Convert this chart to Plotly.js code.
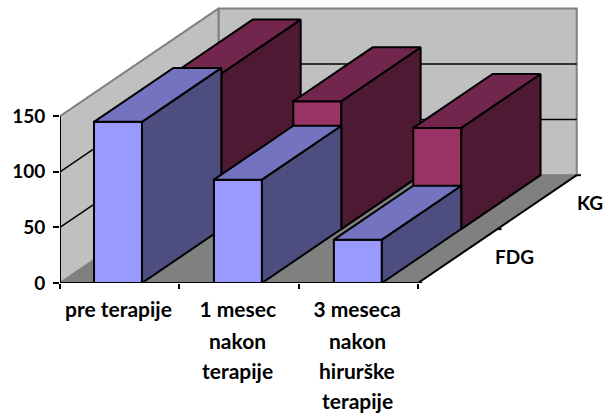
<!DOCTYPE html>
<html>
<head>
<meta charset="utf-8">
<script src="https://cdn.plot.ly/plotly-3.0.1.min.js"></script>
<style>html,body{margin:0;padding:0;background:#fff}#chart{width:614px;height:419px}</style>
</head>
<body>
<div id="chart"></div>
<script>
// Category labels, one array entry per printed line
const categoryLines = [
  ["pre terapije"],
  ["1 mesec", "nakon", "terapije"],
  ["3 meseca", "nakon", "hirurške", "terapije"]
];
const seriesNames = ["FDG", "KG"];
const fdgValues = [145, 93, 39];
const kgValues = [140, 115, 91];
const valueTicks = [0, 50, 100, 150];
const gridValues = [50, 100];

// Oblique projection: how far one series row shifts a point on each axis
const ROW_DX = 0.665;
const ROW_DY = 48.5;
const ROWS = 2;
const BAR_LEFT = 0.285;
const BAR_PITCH = 1.005;
const BAR_WIDTH = 0.402;
const N = categoryLines.length;
const DX = ROW_DX * ROWS, DY = ROW_DY * ROWS;
const TOP = valueTicks[valueTicks.length - 1];
const SERIES_LABEL_GAP = [0.48, 0.445];

const FONT = {family: "Lato, Carlito, sans-serif", size: 19, color: "#000", weight: 700};
const CATEGORY_FONT = {family: FONT.family, size: 21, color: "#000", weight: 700};
const traces = [];

function poly(xs, ys, fill, lineColor, lineWidth) {
  traces.push({
    type: "scatter", mode: "lines", x: xs.concat(xs[0]), y: ys.concat(ys[0]),
    fill: "toself", fillcolor: fill,
    line: {color: lineColor, width: lineWidth},
    hoverinfo: "skip", showlegend: false, cliponaxis: false
  });
}
function path(xs, ys, color, width) {
  traces.push({
    type: "scatter", mode: "lines", x: xs, y: ys,
    line: {color: color, width: width},
    hoverinfo: "skip", showlegend: false, cliponaxis: false
  });
}

// Walls and floor
poly([0, DX, DX, 0], [0, DY, TOP + DY, TOP], "#c0c0c0", "#808080", 2);
poly([DX, N + DX, N + DX, DX], [DY, DY, TOP + DY, TOP + DY], "#c0c0c0", "#808080", 2);
poly([0, N, N + DX, DX], [0, 0, DY, DY], "#808080", "#808080", 1);

// Gridlines run along the side wall, then across the back wall
gridValues.forEach(v => path([0, DX, N + DX], [v, v + DY, v + DY], "#000", 1.5));

// Axis lines and the ticks of the depth axis
path([0, 0], [0, TOP], "#000", 2);
path([0, N, N + DX], [0, 0, DY], "#000", 2);
for (let r = 0; r <= ROWS; r++) {
  path([N + r * ROW_DX, N + r * ROW_DX + 0.035], [r * ROW_DY, r * ROW_DY], "#000", 2);
}

// One box: front, right side and top faces
function box(cat, row, value, colors) {
  const x0 = cat * BAR_PITCH + BAR_LEFT, x1 = x0 + BAR_WIDTH;
  const bx = row * ROW_DX, by = row * ROW_DY;
  const fx = bx + ROW_DX, fy = by + ROW_DY;
  poly([x0 + bx, x1 + bx, x1 + bx, x0 + bx], [by, by, by + value, by + value], colors.front, "#000", 2);
  poly([x1 + bx, x1 + fx, x1 + fx, x1 + bx], [by, fy, fy + value, by + value], colors.side, "#000", 2);
  poly([x0 + bx, x1 + bx, x1 + fx, x0 + fx], [by + value, by + value, fy + value, fy + value], colors.top, "#000", 2);
}
const kgColors = {front: "#993366", side: "#4d1933", top: "#73264d"};
const fdgColors = {front: "#9999ff", side: "#4d4d80", top: "#7373bf"};
kgValues.forEach((v, i) => box(i, 1, v, kgColors));
fdgValues.forEach((v, i) => box(i, 0, v, fdgColors));

// Wrapped category lines after the first, which sits on the axis itself
const annotations = [];
categoryLines.forEach((lines, i) => {
  lines.slice(1).forEach((text, k) => {
    annotations.push({
      text: text, xref: "x", yref: "paper", x: i + 0.49, y: 0,
      xanchor: "center", yanchor: "middle", yshift: -57.5 - 30 * k,
      showarrow: false, font: CATEGORY_FONT
    });
  });
});
// Series names beside the depth axis
seriesNames.forEach((name, r) => {
  annotations.push({
    text: name, xref: "x", yref: "y",
    x: N + (r + 0.5) * ROW_DX + SERIES_LABEL_GAP[r], y: (r + 0.5) * ROW_DY,
    xanchor: "center", yanchor: "middle", yshift: 0,
    showarrow: false, font: FONT
  });
});

const layout = {
  width: 614, height: 419,
  margin: {l: 60, r: 14, t: 4, b: 135.5},
  paper_bgcolor: "#fff", plot_bgcolor: "rgba(0,0,0,0)",
  showlegend: false,
  font: FONT,
  xaxis: {
    range: [0, 4.525], showgrid: false, zeroline: false, showline: false,
    tickmode: "array",
    tickvals: categoryLines.map((_, i) => i + 0.49),
    ticktext: categoryLines.map(l => l[0]),
    ticks: "", tickfont: CATEGORY_FONT, ticklabelstandoff: 12,
    minor: {
      tickmode: "array", tickvals: categoryLines.map((_, i) => i).concat(N),
      ticks: "outside", ticklen: 5, tickwidth: 2, tickcolor: "#000", showgrid: false
    }
  },
  yaxis: {
    range: [0, 251], showgrid: false, zeroline: false, showline: false,
    tickmode: "array", tickvals: valueTicks, ticktext: valueTicks.map(String),
    ticks: "outside", ticklen: 6, tickwidth: 2, tickcolor: "#000", tickfont: FONT,
    ticklabelstandoff: 4
  },
  annotations: annotations
};
Plotly.newPlot("chart", traces, layout, {displayModeBar: false, staticPlot: true});
</script>
</body>
</html>
